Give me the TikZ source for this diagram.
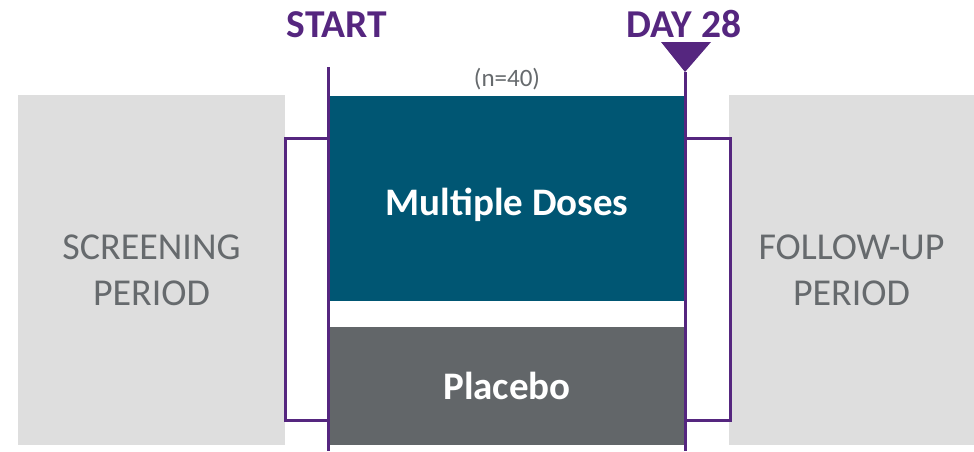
\documentclass[tikz,border=0pt]{standalone}
\usepackage{fontspec}
\setmainfont{Carlito}
\usetikzlibrary{calc,positioning}
\definecolor{trialpurple}{HTML}{55267F}
\definecolor{dosesteal}{HTML}{005673}
\definecolor{placebogray}{HTML}{626669}
\definecolor{periodgray}{HTML}{DEDEDE}
\definecolor{labelgray}{HTML}{666A6D}

\begin{document}
\begin{tikzpicture}[x=1pt,y=-1pt,
		period/.style={fill=periodgray,inner sep=0pt,minimum width=#1,minimum height=350pt,text=labelgray,align=center,font=\fontsize{38}{46}\selectfont},
		arm/.style={inner sep=0pt,minimum width=354pt,text=white,font=\bfseries\fontsize{39}{44}\selectfont},
		milestone/.style={text=trialpurple,font=\bfseries\fontsize{39.5}{44}\selectfont},
		timeline/.style={draw=trialpurple,line width=3pt},
		brace/.style={draw=trialpurple,line width=3pt,line join=miter}]
		\useasboundingbox (0,0) rectangle (974,451);
		\node[period=267pt] (screen) at (151.5,270) {SCREENING\\PERIOD};
		\node[period=245pt] (follow) at (851.5,270) {FOLLOW-UP\\PERIOD};
		\node[arm,fill=dosesteal,minimum height=205pt] (doses) at (507,198.5) {\raisebox{-6pt}[\height][\depth]{Multiple Doses}};
		\node[arm,fill=placebogray,minimum height=118pt] (placebo) at (507,386) {Placebo};
		\node[text=labelgray,font=\fontsize{25}{28}\selectfont,above=2pt of doses.north] (n) {(n=40)};
		\node[milestone] (start) at (337,25) {START};
		\node[milestone] (day) at (684,24) {DAY 28};
		%
		\coordinate (s1) at (328.5,67);
		\coordinate (s2) at (328.5,451);
		\coordinate (d1) at (685,72);
		\coordinate (d2) at (685,451);
		\coordinate (tl) at (661,42);
		\coordinate (tr) at (711,42);
		%
		\draw[timeline] (s1) -- (s2);
		\draw[timeline] (d1) -- (d2);
		\fill[trialpurple] (tl) -- (tr) -- (d1) -- cycle;
		\draw[brace] (s1 |- 0,138) -| (285,420) -- (s1 |- 0,420);
		\draw[brace] (d1 |- 0,138) -| (730,420) -- (d1 |- 0,420);
	\end{tikzpicture}
\end{document}
